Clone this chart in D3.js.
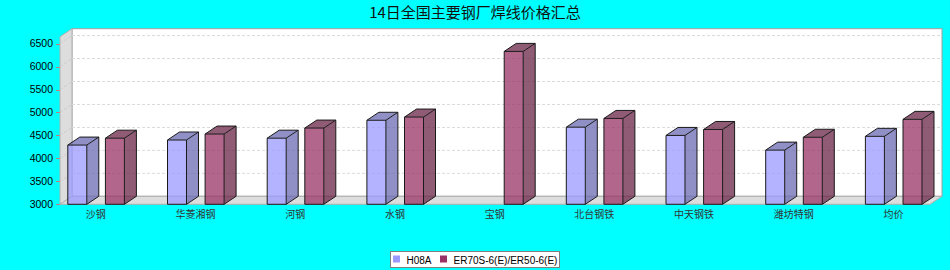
<!DOCTYPE html>
<html><head><meta charset="utf-8">
<script src="https://cdn.jsdelivr.net/npm/d3@7/dist/d3.min.js"></script>
<style>html,body{margin:0;padding:0;background:#00ffff;}svg{display:block;}</style>
</head><body>
<svg id="chart" width="950" height="270"></svg>
<script>
const title = "14日全国主要钢厂焊线价格汇总";
const categories = ["沙钢","华菱湘钢","河钢","水钢","宝钢","北台钢铁","中天钢铁","潍坊特钢","均价"];
const seriesNames = ["H08A","ER70S-6(E)/ER50-6(E)"];
const h08a = [4290, 4400, 4440, 4830, null, 4680, 4500, 4180, 4480];
const er70 = [4440, 4530, 4660, 4900, 6330, 4870, 4630, 4460, 4850];
const yTicks = [3000, 3500, 4000, 4500, 5000, 5500, 6000, 6500];
const colors = ["#9999ff", "#993366"];

(function () {
const svg = d3.select("#chart");
const W = 950, H = 270;
svg.append("rect").attr("width", W).attr("height", H).attr("fill", "#00ffff");

const dx = 12, dy = 8;
const pLeft = 60, pRight = 930, pTop = 36.7, pBottom = 204.3;

const y = d3.scaleLinear().domain([3000, 6650]).range([pBottom, pTop]);
const x = d3.scaleBand().domain(categories).range([46, 46 + 9 * 99.7]).paddingInner(0).paddingOuter(0);
const xs = d3.scaleBand().domain(seriesNames).range([21.8, 21.8 + 56.6]).paddingInner(0.495).paddingOuter(0);

svg.append("text").attr("x", 475).attr("y", 17.5).attr("text-anchor", "middle")
  .attr("font-family", "'Noto Sans CJK SC', sans-serif").attr("font-size", 15).attr("fill", "#111")
  .text(title);

const g = svg.append("g");
g.append("rect").attr("x", pLeft + dx).attr("y", pTop - dy).attr("width", pRight - pLeft).attr("height", pBottom - pTop)
  .attr("fill", "#ffffff").attr("stroke", "#a0a0a0").attr("stroke-width", 1);
g.append("path").attr("d", `M${pLeft},${pTop}L${pLeft+dx},${pTop-dy}L${pLeft+dx},${pBottom-dy}L${pLeft},${pBottom}Z`)
  .attr("fill", "#dddddd").attr("stroke", "#b0b0b0").attr("stroke-width", 1);
g.append("path").attr("d", `M${pLeft},${pBottom}L${pLeft+dx},${pBottom-dy}L${pRight+dx},${pBottom-dy}L${pRight},${pBottom}Z`)
  .attr("fill", "#dddddd").attr("stroke", "#b0b0b0").attr("stroke-width", 1);

yTicks.filter(t => t > 3000).forEach(t => {
  const yy = y(t);
  g.append("line").attr("x1", pLeft + dx).attr("x2", pRight + dx).attr("y1", yy - dy).attr("y2", yy - dy)
    .attr("stroke", "#dadada").attr("stroke-width", 1).attr("stroke-dasharray", "3,2");
  g.append("line").attr("x1", pLeft).attr("x2", pLeft + dx).attr("y1", yy).attr("y2", yy - dy)
    .attr("stroke", "#cccccc").attr("stroke-width", 1).attr("stroke-dasharray", "3,2");
});

const yAxis = svg.append("g");
yTicks.forEach(t => {
  const yy = Math.round(y(t)) + 0.5;
  yAxis.append("line").attr("x1", 56).attr("x2", 60).attr("y1", yy).attr("y2", yy)
    .attr("stroke", "#c08080").attr("stroke-width", 1);
  yAxis.append("text").attr("x", 53).attr("y", y(t) + 3.8).attr("text-anchor", "end")
    .attr("font-family", "'Liberation Sans', Arial, sans-serif").attr("font-size", 10.5).attr("fill", "#000")
    .text(t);
});

const series = [h08a, er70];
const darker = c => { const k = d3.rgb(c); return d3.rgb(k.r * 0.7, k.g * 0.7, k.b * 0.7).toString(); };
categories.forEach((cat, i) => {
  series.forEach((vals, s) => {
    const v = vals[i];
    if (v == null) return;
    const x0 = x(cat) + xs(seriesNames[s]);
    const w = xs.bandwidth();
    const y0 = y(v), yb = y(3000);
    const bg = g.append("g");
    bg.append("rect").attr("x", x0).attr("y", y0).attr("width", w).attr("height", yb - y0)
      .attr("fill", colors[s]).attr("fill-opacity", 0.75);
    bg.append("path").attr("d", `M${x0+w},${yb}L${x0+w+dx},${yb-dy}L${x0+w+dx},${y0-dy}L${x0+w},${y0}Z`)
      .attr("fill", darker(colors[s])).attr("fill-opacity", 0.75);
    bg.append("path").attr("d", `M${x0},${y0}L${x0+dx},${y0-dy}L${x0+w+dx},${y0-dy}L${x0+w},${y0}Z`)
      .attr("fill", darker(colors[s])).attr("fill-opacity", 0.75);
    bg.append("path").attr("d", `M${x0},${y0}L${x0+dx},${y0-dy}L${x0+w+dx},${y0-dy}L${x0+w+dx},${yb-dy}L${x0+w},${yb}L${x0},${yb}Z M${x0+w},${yb}L${x0+w},${y0}L${x0+w+dx},${y0-dy} M${x0},${y0}L${x0+w},${y0}`)
      .attr("fill", "none").attr("stroke", "#1a1a1a").attr("stroke-width", 1);
  });
});

categories.forEach(cat => {
  svg.append("text").attr("x", x(cat) + x.bandwidth() / 2).attr("y", 217.5).attr("text-anchor", "middle")
    .attr("font-family", "'Noto Sans CJK SC', sans-serif").attr("font-size", 10).attr("fill", "#333")
    .text(cat);
});

const lg = svg.append("g");
lg.append("rect").attr("x", 390.5).attr("y", 251.5).attr("width", 169).attr("height", 16)
  .attr("fill", "#ffffff").attr("stroke", "#808080").attr("stroke-width", 1);
const legX = [393, 440];
const legTX = [406.5, 453.5];
seriesNames.forEach((n, s) => {
  lg.append("rect").attr("x", legX[s]).attr("y", 255.5).attr("width", 7).attr("height", 7).attr("fill", colors[s]);
  lg.append("text").attr("x", legTX[s]).attr("y", 263.5)
    .attr("font-family", "'Liberation Sans', Arial, sans-serif").attr("font-size", 10).attr("fill", "#000")
    .text(n);
});
})();
</script>
</body></html>
